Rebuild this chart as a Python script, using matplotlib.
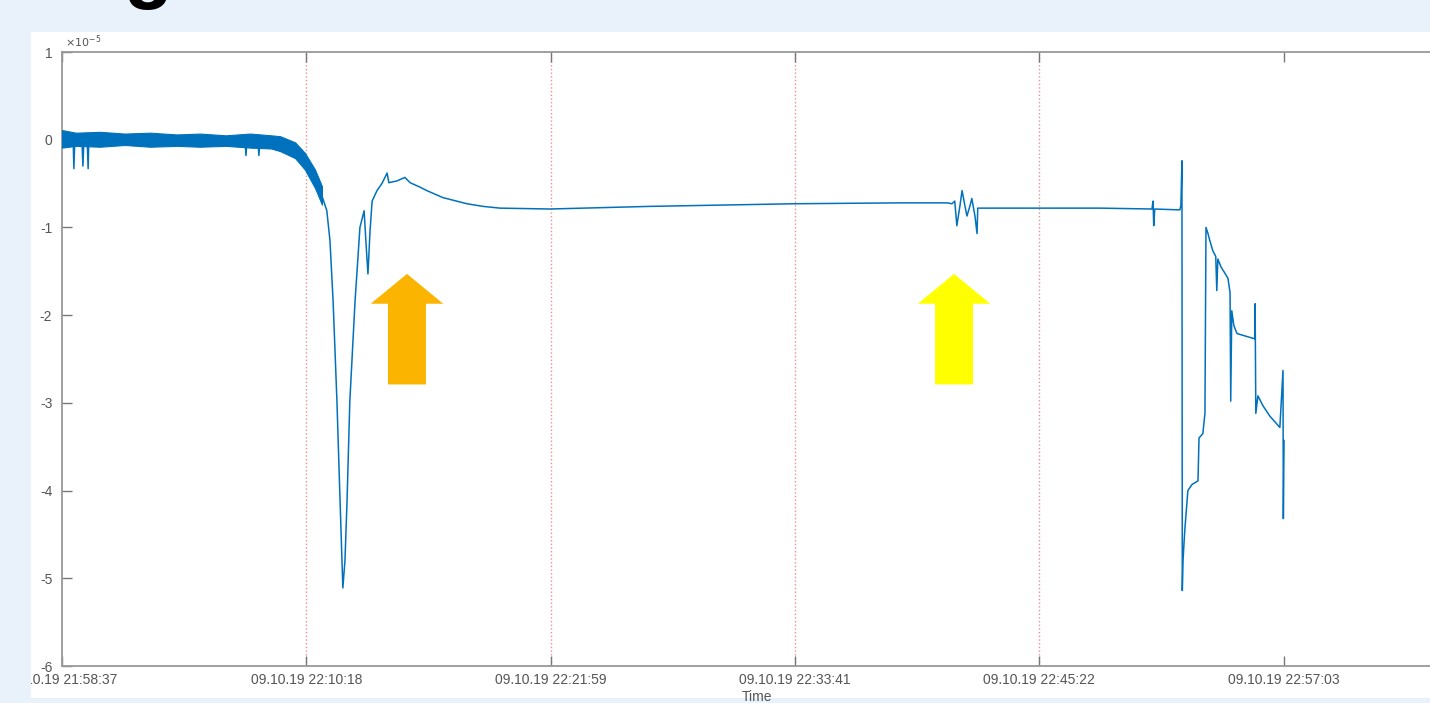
import numpy as np
import matplotlib.pyplot as plt
from matplotlib.patches import Rectangle, FancyArrow

plt.rcParams['font.family'] = ['Liberation Sans', 'DejaVu Sans']
plt.rcParams['axes.unicode_minus'] = False

# time in seconds after 09.10.19 21:58:37, value in units of 1e-5
t_sec = np.array([0, 32, 34, 37, 57, 60, 63, 72, 75, 77, 253, 396, 525, 528, 531,
                  562, 565, 568, 626, 669, 697, 726, 746, 760, 769, 778, 789, 798,
                  806, 812, 818, 826, 841, 855, 867, 872, 878, 884, 890, 904, 918,
                  933, 938, 961, 984, 999, 1027, 1047, 1093, 1162, 1208, 1257, 1400,
                  1687, 2103, 2405, 2540, 2554, 2562, 2568, 2577, 2583, 2591, 2597,
                  2606, 2611, 2620, 2626, 2628, 2634, 2979, 3128, 3131, 3133, 3136,
                  3208, 3211, 3214, 3215, 3217, 3222, 3231, 3243, 3260, 3263, 3274,
                  3280, 3283, 3288, 3294, 3303, 3311, 3314, 3317, 3326, 3337, 3346,
                  3352, 3354, 3357, 3363, 3372, 3423, 3424, 3426, 3432, 3446, 3466,
                  3495, 3504, 3505, 3507])
value = np.array([0.01, 0.01, -0.33, 0.01, 0.01, -0.30, 0.01, 0.01, -0.33, 0.01, 0.0,
                  0.0, 0.0, -0.18, 0.0, 0.0, -0.18, 0.0, -0.02, -0.13, -0.24, -0.44,
                  -0.64, -0.81, -1.15, -1.84, -2.98, -4.12, -5.11, -4.80, -4.12,
                  -2.98, -1.84, -1.00, -0.81, -1.15, -1.53, -1.04, -0.70, -0.58,
                  -0.50, -0.38, -0.49, -0.47, -0.43, -0.49, -0.54, -0.58, -0.66,
                  -0.73, -0.76, -0.78, -0.79, -0.76, -0.73, -0.72, -0.72, -0.73,
                  -0.70, -0.98, -0.75, -0.58, -0.75, -0.87, -0.75, -0.67, -0.87,
                  -1.07, -0.78, -0.78, -0.78, -0.79, -0.70, -0.98, -0.79, -0.80,
                  -0.75, -0.24, -5.14, -4.80, -4.46, -4.00, -3.93, -3.89, -3.40,
                  -3.35, -3.12, -1.00, -1.06, -1.15, -1.27, -1.33, -1.72, -1.36,
                  -1.45, -1.52, -1.58, -1.74, -2.98, -1.95, -2.12, -2.21, -2.27,
                  -1.87, -3.12, -2.92, -3.03, -3.15, -3.28, -2.63, -4.32, -3.43])

# noise envelope of the dense early part
band_sec = np.array([0, 40, 109, 180, 253, 330, 396, 470, 540, 600, 626, 669, 697, 726, 746])
band_hi = np.array([0.11, 0.08, 0.09, 0.07, 0.08, 0.06, 0.07, 0.05, 0.07, 0.05,
                    0.04, -0.03, -0.15, -0.34, -0.53])
band_lo = np.array([-0.09, -0.07, -0.08, -0.06, -0.08, -0.07, -0.08, -0.07, -0.09,
                    -0.10, -0.13, -0.21, -0.34, -0.55, -0.74])

tick_sec = [0, 701, 1402, 2104, 2805, 3506]
tick_labels = ['09.10.19 21:58:37', '09.10.19 22:10:18', '09.10.19 22:21:59',
               '09.10.19 22:33:41', '09.10.19 22:45:22', '09.10.19 22:57:03']
event_sec = [701, 1402, 2104, 2805]

# arrows: centre time, tip value, tail value, colour
arrow_sec = [990, 2560]
arrow_tip = [-1.53, -1.53]
arrow_tail = [-2.79, -2.79]
arrow_colors = ['#FBB400', '#FFFF00']

fig = plt.figure(figsize=(14.3, 7.03), dpi=100, facecolor='#E9F1FB')
fig.add_artist(Rectangle((31 / 1430, 5 / 703), 1.0, 666 / 703, transform=fig.transFigure,
                         facecolor='white', edgecolor='none', zorder=-1))
ax = fig.add_axes([62 / 1430, 37 / 703, 1390 / 1430, 614 / 703])

line_c = '#0072BD'
ax.fill_between(band_sec, band_lo, band_hi, color=line_c, lw=0.8, zorder=3)
ax.plot(t_sec, value, color=line_c, lw=1.1, zorder=3)

for x in event_sec:
    ax.axvline(x, color='#E89090', lw=1.0, ls=':', zorder=1)

for x, tip, tail, c in zip(arrow_sec, arrow_tip, arrow_tail, arrow_colors):
    ax.add_patch(FancyArrow(x, tail, 0, tip - tail, width=109, head_width=208,
                            head_length=0.34, length_includes_head=True,
                            facecolor=c, edgecolor='none', zorder=4))

ax.set_xlim(0, 3989)
ax.set_ylim(-6, 1)
ax.set_xticks(tick_sec)
ax.set_xticklabels(tick_labels)
ax.set_yticks(range(-6, 2))
ax.set_yticklabels([str(v) for v in range(-6, 2)])
ax.tick_params(direction='in', length=7.5, width=1.0, color='#777777',
               labelcolor='#555555', labelsize=10, top=True, right=True)
ax.tick_params(axis='x', pad=5)
ax.tick_params(axis='y', pad=7)
for s in ax.spines.values():
    s.set_color('#999999')
    s.set_linewidth(1.3)
ax.set_xlabel('Time', fontsize=10, color='#555555', labelpad=2)
ax.text(0.002, 1.004, r'$\times 10^{-5}$', transform=ax.transAxes, fontsize=8,
        color='#555555', va='bottom', ha='left')

# title cut off by the screenshot edge
fig.text(148 / 1430, 1.01, 'g', fontsize=58, fontweight='bold', color='black',
         ha='center', va='baseline')
fig.add_artist(Rectangle((0, 0), 31 / 1430, 1.0, transform=fig.transFigure,
                         facecolor='#E9F1FB', edgecolor='none', zorder=10))

fig.savefig('out.png', dpi=100, facecolor=fig.get_facecolor())
